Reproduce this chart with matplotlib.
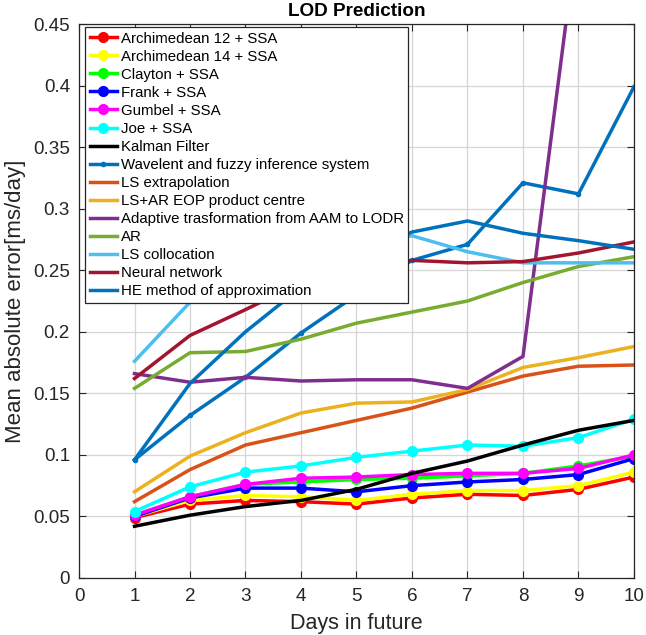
import numpy as np
import matplotlib.pyplot as plt

plt.rcParams['font.family'] = ['Liberation Sans', 'DejaVu Sans']

# Days ahead
days = [1, 2, 3, 4, 5, 6, 7, 8, 9, 10]

# Mean absolute error per method
arch12 = [0.049, 0.060, 0.063, 0.062, 0.060, 0.065, 0.068, 0.067, 0.072, 0.082]
arch14 = [0.050, 0.063, 0.067, 0.066, 0.063, 0.068, 0.071, 0.071, 0.075, 0.086]
clayton = [0.051, 0.066, 0.076, 0.078, 0.080, 0.081, 0.083, 0.085, 0.091, 0.099]
frank = [0.050, 0.065, 0.073, 0.073, 0.070, 0.075, 0.078, 0.080, 0.084, 0.097]
gumbel = [0.051, 0.066, 0.076, 0.081, 0.082, 0.084, 0.085, 0.085, 0.089, 0.100]
joe = [0.054, 0.074, 0.086, 0.091, 0.098, 0.103, 0.108, 0.107, 0.114, 0.129]
kalman = [0.042, 0.051, 0.058, 0.063, 0.072, 0.085, 0.095, 0.108, 0.120, 0.128]
wavelet = [0.096, 0.132, 0.163, 0.199, 0.230, 0.258, 0.271, 0.321, 0.312, 0.399]
ls_extrap = [0.062, 0.088, 0.108, 0.118, 0.128, 0.138, 0.151, 0.164, 0.172, 0.173]
ls_ar = [0.070, 0.099, 0.118, 0.134, 0.142, 0.143, 0.153, 0.171, 0.179, 0.188]
adaptive = [0.166, 0.159, 0.163, 0.160, 0.161, 0.161, 0.154, 0.180, 0.530, 0.600]
ar = [0.154, 0.183, 0.184, 0.194, 0.207, 0.216, 0.225, 0.240, 0.253, 0.261]
ls_colloc = [0.176, 0.224, 0.245, 0.260, 0.270, 0.278, 0.265, 0.256, 0.256, 0.256]
neural = [0.162, 0.197, 0.218, 0.240, 0.252, 0.258, 0.256, 0.257, 0.264, 0.273]
he_method = [0.096, 0.158, 0.200, 0.236, 0.262, 0.281, 0.290, 0.280, 0.274, 0.267]

fig = plt.figure(figsize=(6.46, 6.35), dpi=100)
ax = fig.add_axes([0.1223, 0.0898, 0.8591, 0.8724])

lw = 2.5
ms = 7
# copula + SSA results with markers
ax.plot(days, arch12, '-o', color='#ff0000', lw=lw, ms=ms, label='Archimedean 12 + SSA')
ax.plot(days, arch14, '-o', color='#ffff00', lw=lw, ms=ms, label='Archimedean 14 + SSA')
ax.plot(days, clayton, '-o', color='#00ff00', lw=lw, ms=ms, label='Clayton + SSA')
ax.plot(days, frank, '-o', color='#0000ff', lw=lw, ms=ms, label='Frank + SSA')
ax.plot(days, gumbel, '-o', color='#ff00ff', lw=lw, ms=ms, label='Gumbel + SSA')
ax.plot(days, joe, '-o', color='#00ffff', lw=lw, ms=ms, label='Joe + SSA')
ax.plot(days, kalman, '-', color='black', lw=lw, label='Kalman Filter')
ax.plot(days, wavelet, '-', marker='.', color='#0072bd', lw=lw, ms=6,
        label='Wavelent and fuzzy inference system')
ax.plot(days, ls_extrap, '-', color='#d95319', lw=lw, label='LS extrapolation')
ax.plot(days, ls_ar, '-', color='#edb120', lw=lw, label='LS+AR EOP product centre')
ax.plot(days, adaptive, '-', color='#7e2f8e', lw=lw, label='Adaptive trasformation from AAM to LODR')
ax.plot(days, ar, '-', color='#77ac30', lw=lw, label='AR')
ax.plot(days, ls_colloc, '-', color='#4dbeee', lw=lw, label='LS collocation')
ax.plot(days, neural, '-', color='#a2142f', lw=lw, label='Neural network')
ax.plot(days, he_method, '-', color='#0072bd', lw=lw, label='HE method of approximation')

ax.set_xlim(0, 10)
ax.set_ylim(0, 0.45)
ax.set_xticks(range(0, 11))
yt = np.arange(0, 0.451, 0.05)
ax.set_yticks(yt)
ax.set_yticklabels(['0'] + ['%g' % round(v, 2) for v in yt[1:]])
ax.tick_params(direction='in', labelsize=13.6, length=5, width=0.8, top=True, right=True,
               color='#262626', labelcolor='#262626')
ax.tick_params(axis='y', pad=6.5)
ax.tick_params(axis='x', pad=7)
ax.grid(True, color='#d6d6d6', lw=0.9)
ax.set_axisbelow(True)
for s in ax.spines.values():
    s.set_color('#262626')
    s.set_linewidth(0.9)

ax.set_xlabel('Days in future', fontsize=15.5, color='#262626', labelpad=6)
ax.set_ylabel('Mean absolute error[ms/day]', fontsize=16, color='#262626', labelpad=5)
ax.set_title('LOD Prediction', fontsize=13.6, fontweight='bold', pad=5.8)

leg = ax.legend(loc='upper left', fontsize=10.8, handlelength=1.8, handletextpad=0.27,
                labelspacing=0.27, borderpad=0.3, borderaxespad=0.0, fancybox=False,
                framealpha=1, edgecolor='#262626', bbox_to_anchor=(6 / 555, 1 - 3 / 554))
leg.get_frame().set_linewidth(0.9)

fig.savefig('out.png', dpi=100)
